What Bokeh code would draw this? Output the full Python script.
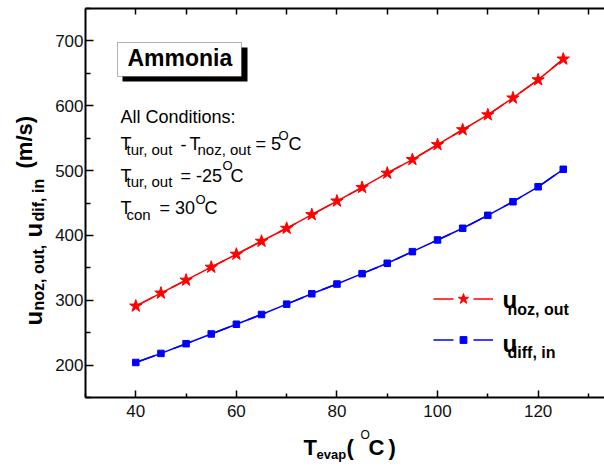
import math
from bokeh.plotting import figure
from bokeh.layouts import row, column
from bokeh.models import (Label, BoxAnnotation, Legend, LegendItem, LinearAxis,
                          FixedTicker, Range1d)
from bokeh.embed import file_html
from bokeh.resources import INLINE

# ---- data ----
t_evap = [40, 45, 50, 55, 60, 65, 70, 75, 80, 85, 90, 95, 100, 105, 110, 115, 120, 125]
u_noz_out = [291, 311, 331, 351, 371, 391, 411, 432, 453, 474, 496, 517, 540, 563, 586, 612, 640, 672]
u_diff_in = [204, 218, 233, 248, 263, 278, 294, 310, 325, 341, 357, 375, 393, 411, 431, 452, 475, 502]
x_major = [40, 60, 80, 100, 120]
x_minor = [30, 50, 70, 90, 110, 130]
x_top = [40, 50, 60, 70, 80, 90, 100, 110, 120, 130]
y_major = [200, 300, 400, 500, 600, 700]
y_minor = [150, 250, 350, 450, 550, 650, 750]

FONT = "Liberation Sans"
LW = 50      # width of left title strip
MH = 425     # height of main plot
FL = 85      # page x of frame left
FT = 8       # page y of frame top
FB = 397     # page y of frame bottom


def blank_fig(w, h, top=0, bot=0):
    f = figure(width=w, height=h, x_range=Range1d(0, 1), y_range=Range1d(0, 1),
               output_backend="svg", toolbar_location=None,
               x_axis_type=None, y_axis_type=None,
               min_border_left=0, min_border_right=0, min_border_top=top,
               min_border_bottom=bot)
    f.outline_line_color = None
    f.xgrid.visible = False
    f.ygrid.visible = False
    f.background_fill_color = "white"
    f.border_fill_color = "white"
    return f


p = figure(width=604 - LW, height=MH, x_range=Range1d(30, 133.2), y_range=Range1d(150, 750),
           output_backend="svg", toolbar_location=None,
           min_border_left=FL - LW, min_border_right=0, min_border_top=FT,
           min_border_bottom=MH - FB)
p.outline_line_color = None
p.xgrid.visible = False
p.ygrid.visible = False
p.background_fill_color = "white"
p.border_fill_color = "white"


def style_axis(ax, maj_in, min_in):
    ax.axis_line_width = 2
    ax.axis_line_color = "black"
    ax.major_tick_in = maj_in
    ax.major_tick_out = 0
    ax.minor_tick_in = min_in
    ax.minor_tick_out = 0
    ax.major_tick_line_width = 1.5
    ax.minor_tick_line_width = 1.5
    ax.major_tick_line_color = "black"
    ax.minor_tick_line_color = "black"
    ax.major_label_text_font = FONT
    ax.major_label_text_font_size = "17px"
    ax.major_label_text_color = "#111111"


xa = p.xaxis[0]
xa.ticker = FixedTicker(ticks=x_major, minor_ticks=x_minor)
style_axis(xa, 7, 4)
xa.major_label_standoff = 7

ya = p.yaxis[0]
ya.ticker = FixedTicker(ticks=y_major, minor_ticks=y_minor)
style_axis(ya, 8, 5)
ya.major_label_standoff = 2

top = LinearAxis(ticker=FixedTicker(ticks=[], minor_ticks=x_top))
style_axis(top, 0, 6)
top.major_label_standoff = 0
p.add_layout(top, "above")

# ---- series ----
r_line = p.line(t_evap, u_noz_out, line_color="#ff0000", line_width=1.5)
r_leg = p.line(t_evap, u_noz_out, line_color="#ff0000", line_width=1.5, line_dash="20 20")
r_star = p.scatter(t_evap, u_noz_out, marker="star", size=13, color="#ff0000")
b_line = p.line(t_evap, u_diff_in, line_color="#0000ff", line_width=1.5)
b_leg = p.line(t_evap, u_diff_in, line_color="#0000ff", line_width=1.5, line_dash="20 20")
b_sq = p.scatter(t_evap, u_diff_in, marker="square", size=6.5, color="#0000ff")


def make_legend(items, cx, cy, gh):
    lg = Legend(items=items, location=(cx - FL, FB - (cy + gh / 2)),
                padding=0, margin=0, spacing=0,
                glyph_width=60, glyph_height=gh, label_width=0, label_height=0,
                label_standoff=0, border_line_color=None, background_fill_alpha=0,
                label_text_font_size="10px")
    p.add_layout(lg)


make_legend([LegendItem(label=" ", renderers=[r_leg, r_star])], 433, 298, 27)
make_legend([LegendItem(label=" ", renderers=[b_leg, b_sq])], 433, 339, 17)


def lab(fig, ox, oy, px, py, text, size, bold=False, angle=0.0):
    fig.add_layout(Label(x=px - ox, y=oy - py, x_units="screen", y_units="screen",
                         text=text, text_font=FONT, text_font_size=f"{size}px",
                         text_font_style="bold" if bold else "normal",
                         text_color="black", angle=angle,
                         text_align="left", text_baseline="alphabetic"))


def mlab(*a, **k):
    lab(p, FL, FB + 8, *a, **k)


# ---- Ammonia box ----
p.add_layout(BoxAnnotation(left=122 - FL, right=247 - FL, top=FB - 47, bottom=FB - 81,
                           left_units="screen", right_units="screen",
                           top_units="screen", bottom_units="screen",
                           fill_color="black", fill_alpha=1, line_color=None))
p.add_layout(BoxAnnotation(left=117 - FL, right=241 - FL, top=FB - 42, bottom=FB - 76,
                           left_units="screen", right_units="screen",
                           top_units="screen", bottom_units="screen",
                           fill_color="white", fill_alpha=1, line_color="black",
                           line_width=1))
mlab(127, 65.5, "Ammonia", 23, bold=True)

# ---- conditions text ----
mlab(120, 124, "All Conditions:", 18)
mlab(120, 151.5, "T", 18)
mlab(126, 157, "tur, out", 15)
mlab(180, 151.5, "-", 18)
mlab(189, 151.5, "T", 18)
mlab(197, 157, "noz, out", 15)
mlab(255, 151.5, "= 5", 18)
mlab(278, 143, "O", 13)
mlab(288, 151.5, "C", 18)

mlab(120, 183, "T", 18)
mlab(126, 189, "tur, out", 15)
mlab(180, 183, "= -25", 18)
mlab(222, 173, "O", 13)
mlab(230, 183, "C", 18)

mlab(120, 215, "T", 18)
mlab(126, 222, "con", 15)
mlab(159, 215, "= 30", 18)
mlab(195, 207, "O", 13)
mlab(204, 215, "C", 18)

# ---- legend texts ----
mlab(502, 307, "u", 24, bold=True)
mlab(507, 316.5, "noz, out", 16, bold=True)
mlab(502, 350.5, "u", 24, bold=True)
mlab(507, 360, "diff, in", 16, bold=True)

# ---- y axis title strip (rotated); borders match the main plot ----
left = blank_fig(LW, MH, top=FT, bot=MH - FB)
A = math.pi / 2
LOY = FB
DX = 8
lab(left, DX, LOY, 41, 325, "u", 24, bold=True, angle=A)
lab(left, DX, LOY, 46, 310, "noz, out,", 16, bold=True, angle=A)
lab(left, DX, LOY, 41, 237, "u", 24, bold=True, angle=A)
lab(left, DX, LOY, 46, 221, "dif, in", 16, bold=True, angle=A)
lab(left, DX, LOY, 32, 168, "(m/s)", 22, bold=True, angle=A)

# ---- x axis title strip (its frame aligns with the main frame's left edge) ----
bottom = blank_fig(604 - LW, 466 - MH)
BOY = 466 + 8
lab(bottom, FL, BOY, 303, 455, "T", 22, bold=True)
lab(bottom, FL, BOY, 316, 462, "evap", 13, bold=True)
lab(bottom, FL, BOY, 346, 455, "(", 22, bold=True)
lab(bottom, FL, BOY, 360, 442, "O", 12)
lab(bottom, FL, BOY, 368, 455, "C", 22, bold=True)
lab(bottom, FL, BOY, 388, 455, ")", 22, bold=True)

layout = row(left, column(p, bottom, spacing=0), spacing=0)
open("out.html", "w").write(file_html(layout, INLINE))
